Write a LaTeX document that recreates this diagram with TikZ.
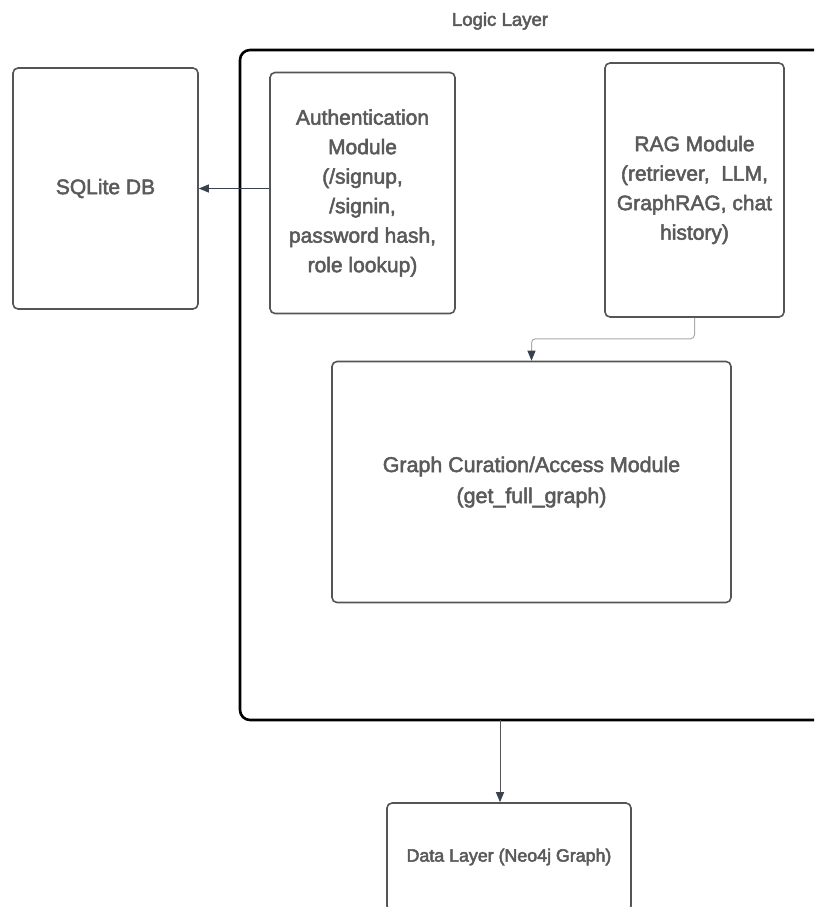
\documentclass[tikz,border=0pt]{standalone}
\usepackage{fontspec}
\setmainfont{Liberation Sans}
\newcommand\heavytext{\special{pdf:literal direct 2 Tr 0.5 w}}
\usetikzlibrary{arrows.meta,calc}
\definecolor{txt}{HTML}{5A5A5A}
\definecolor{boxline}{HTML}{555555}
\definecolor{arr}{HTML}{3A4150}
\definecolor{lightarr}{HTML}{ABABAB}
\tikzset{
  mod/.style={draw=boxline, line width=1.6pt, rounded corners=5pt, fill=white,
    text=txt, align=center, inner sep=0pt,
    font=\heavytext\fontsize{21}{29.5}\selectfont},
  container/.style={draw=black, line width=2.6pt, rounded corners=10pt},
  conn/.style={line width=1pt, -{Triangle[width=8pt,length=10pt]}},
}
\begin{document}
\begin{tikzpicture}[x=1pt,y=-1pt]
\useasboundingbox (0,0) rectangle (814,907);
\clip (0,0) rectangle (814,907);
\node[container, minimum width=590pt, minimum height=670pt, inner sep=0pt] (logic) at (535,385) {};
\node[text=txt, font=\heavytext\fontsize{18.6}{22}\selectfont] (title) at (500,21) {Logic Layer};
\node[mod, minimum width=185pt, minimum height=241pt] (sqlite) at (105.5,188.5) {SQLite DB};
\node[mod, minimum width=185pt, minimum height=241pt] (auth) at (362.5,193) {Authentication\\Module\\(/signup,\\/signin,\\password hash,\\role lookup)};
\node[mod, minimum width=179pt, minimum height=254pt] (rag) at (694.5,190) {RAG Module\\(retriever,\ \ LLM,\\GraphRAG, chat\\history)};
\node[mod, minimum width=399pt, minimum height=241pt, font=\heavytext\fontsize{21.4}{31}\selectfont] (graph) at (531.5,482) {Graph Curation/Access Module\\(get\_full\_graph)};
\node[mod, minimum width=244pt, minimum height=108pt, font=\heavytext\fontsize{17.8}{22}\selectfont] (data) at (509,857) {Data Layer (Neo4j Graph)};
\coordinate (lb) at (500,720);
\draw[conn, draw=arr] (auth.west |- sqlite.east) -- (sqlite.east);
\draw[conn, draw=lightarr, rounded corners=4pt, -{Triangle[width=8pt,length=10pt,color=arr]}]
  (rag.south) -- ++(0,21) -| (graph.north);
\draw[conn, draw=boxline, -{Triangle[width=8pt,length=10pt,color=arr]}] (lb) -- (lb |- data.north);
\end{tikzpicture}
\end{document}
